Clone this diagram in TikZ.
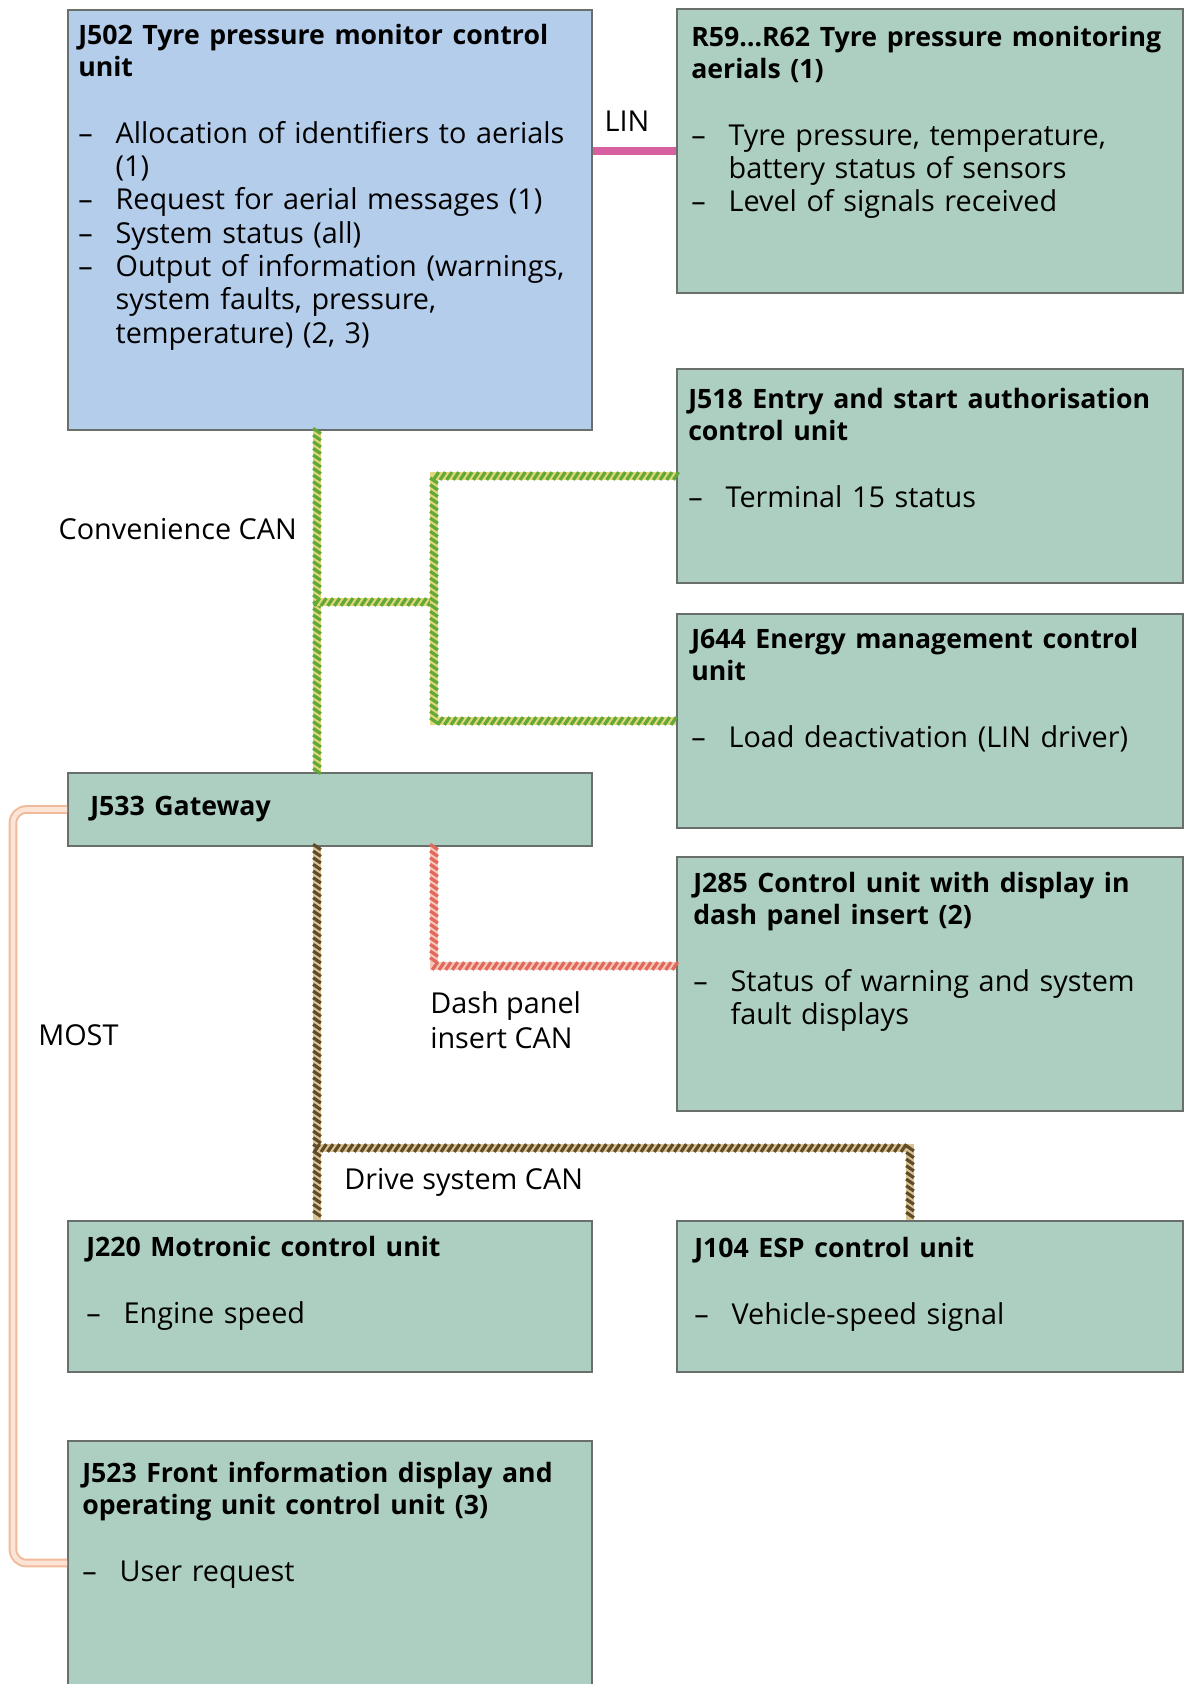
\documentclass[tikz,border=0pt]{standalone}
\usepackage{fontspec}
\setmainfont{Open Sans}
\usetikzlibrary{positioning,fit,calc,decorations.markings}
\definecolor{boxgreen}{RGB}{173,207,194}
\definecolor{boxblue}{RGB}{180,205,235}
\definecolor{boxedge}{RGB}{105,112,108}
\definecolor{canyellow}{RGB}{226,216,120}
\definecolor{cangreen}{RGB}{98,168,58}
\definecolor{dashpink}{RGB}{246,200,186}
\definecolor{dashred}{RGB}{226,104,92}
\definecolor{drivetan}{RGB}{218,196,148}
\definecolor{drivebrown}{RGB}{96,76,42}
\definecolor{linpink}{RGB}{214,96,160}
\definecolor{mostpeach}{RGB}{242,186,156}
\definecolor{mostlight}{RGB}{252,228,214}

\newcommand{\unittitle}[1]{{\bfseries\fontsize{20}{24}\selectfont #1\par}\vspace{25pt}}
\newcommand{\entry}[1]{\hangindent=28pt\hangafter=1\noindent\makebox[28pt][l]{--}#1\par}

\begin{document}
\begin{tikzpicture}[x=0.75pt,y=-0.75pt,
  unitbox/.style={draw=boxedge, line width=1.5pt, inner sep=0pt, fill=boxgreen},
  boxtext/.style={anchor=north west, inner sep=0pt, text width=380pt, align=left,
    font=\fontsize{21.6}{25}\selectfont},
  buslabel/.style={inner sep=0pt, align=left, font=\fontsize{21.6}{25.8}\selectfont},
  twisted/.style={line width=6pt, draw=#1, postaction={decorate}},
  stripes/.style={decoration={markings, mark=between positions 0 and 1 step 5pt with
    {\draw[#1, line width=2.4pt] (-2pt,-2.9pt) -- (2pt,2.9pt);}}},
  convcan/.style={twisted=canyellow, stripes=cangreen},
  dashcan/.style={twisted=dashpink, stripes=dashred},
  drivecan/.style={twisted=drivetan, stripes=drivebrown},
  linbus/.style={line width=6pt, draw=linpink},
  mostbus/.style={line width=6.5pt, draw=mostpeach, rounded corners=10pt,
    postaction={draw=mostlight, line width=3.5pt, rounded corners=10pt}}]
\useasboundingbox (0,0) rectangle (1184,1684);

% control units
\node[unitbox, fill=boxblue, fit={(68,10) (592,430)}] (j502) {};
\node[unitbox, fit={(677,9) (1183,293)}] (r59) {};
\node[unitbox, fit={(677,369) (1183,583)}] (j518) {};
\node[unitbox, fit={(677,614) (1183,828)}] (j644) {};
\node[unitbox, fit={(68,773) (592,846)}] (j533) {};
\node[unitbox, fit={(677,857) (1183,1111)}] (j285) {};
\node[unitbox, fit={(68,1221) (592,1372)}] (j220) {};
\node[unitbox, fit={(677,1221) (1183,1372)}] (j104) {};
\node[unitbox, fit={(68,1441) (592,1700)}] (j523) {};

% texts in the boxes
\node[boxtext] (j502t) at (78,24) {\unittitle{J502 Tyre pressure monitor control\\unit}%
  \entry{Allocation of identifiers to aerials\newline(1)}%
  \entry{Request for aerial messages (1)}%
  \entry{System status (all)}%
  \entry{Output of information (warnings,\newline system faults, pressure,\newline temperature) (2, 3)}};
\node[boxtext] (r59t) at (691,26) {\unittitle{R59…R62 Tyre pressure monitoring\\aerials (1)}%
  \entry{Tyre pressure, temperature,\newline battery status of sensors}%
  \entry{Level of signals received}};
\node[boxtext] (j518t) at (688,388) {\unittitle{J518 Entry and start authorisation\\control unit}%
  \entry{Terminal 15 status}};
\node[boxtext] (j644t) at (691,628) {\unittitle{J644 Energy management control\\unit}%
  \entry{Load deactivation (LIN driver)}};
\node[boxtext] (j533t) at (90,796) {{\bfseries\fontsize{20}{24}\selectfont J533 Gateway}};
\node[boxtext] (j285t) at (693,872) {\unittitle{J285 Control unit with display in\\dash panel insert (2)}%
  \entry{Status of warning and system\newline fault displays}};
\node[boxtext] (j220t) at (86,1236) {\unittitle{J220 Motronic control unit}%
  \entry{Engine speed}};
\node[boxtext] (j104t) at (694,1237) {\unittitle{J104 ESP control unit}%
  \entry{Vehicle-speed signal}};
\node[boxtext] (j523t) at (82,1462) {\unittitle{J523 Front information display and\\operating unit control unit (3)}%
  \entry{User request}};

% bus lines
\coordinate (cv) at (317,602);
\coordinate (bx) at (434,602);
\coordinate (dp) at (434,966);
\coordinate (dr) at (910,1148);
\coordinate (mo) at (13,1563);

\draw[linbus] (j502.east |- r59.west) -- (r59.west);
\draw[convcan] (cv |- j502.south) -- (cv |- j533.north);
\draw[convcan] (cv) -- (bx);
\draw[convcan] (j518.west) -| (bx) |- (j644.west);
\draw[dashcan] (dp |- j533.south) -- (dp) -- (dp -| j285.west);
\draw[drivecan] (cv |- j533.south) -- (cv |- j220.north);
\draw[drivecan] (dr -| cv) -- (dr) -- (dr |- j104.north);
\draw[mostbus] (j533.west) -| (mo) -- (mo -| j523.west);

% bus names
\node[buslabel] (lin) at (627,121) {LIN};
\node[buslabel, anchor=east] (convlbl) at (297,529) {Convenience CAN};
\node[buslabel, anchor=west] (dashlbl) at (430,1020) {Dash panel\\insert CAN};
\node[buslabel, anchor=west] (mostlbl) at (38,1035) {MOST};
\node[buslabel, anchor=west] (drivelbl) at (344,1182) {Drive system CAN};
\end{tikzpicture}
\end{document}
